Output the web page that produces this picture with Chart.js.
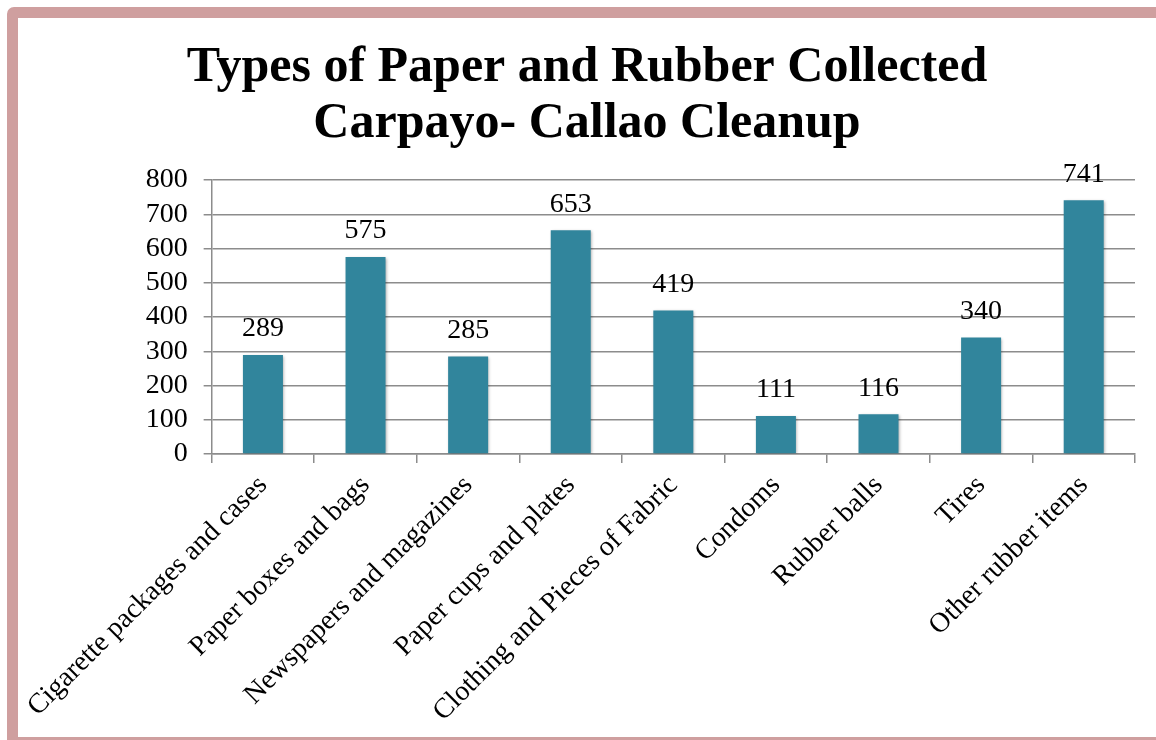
<!DOCTYPE html>
<html>
<head>
<meta charset="utf-8">
<script src="https://cdn.jsdelivr.net/npm/chart.js@4/dist/chart.umd.min.js"></script>
<style>
  html, body { margin: 0; padding: 0; background: #fff; overflow: hidden; width: 1156px; height: 740px; }
  #frame { position: absolute; left: 7px; top: 7px; width: 1170px; height: 741px; box-sizing: border-box;
           border: 11px solid #cf9f9f; border-radius: 7px; }
  #wrap { position: absolute; left: 16px; top: 18px; width: 1142px; height: 719px; }
</style>
</head>
<body>
<div id="frame"></div>
<div id="wrap"><canvas id="chart" width="1142" height="719"></canvas></div>
<script>
const categories = [
  "Cigarette packages and cases",
  "Paper boxes and bags",
  "Newspapers and magazines",
  "Paper cups and plates",
  "Clothing and Pieces of Fabric",
  "Condoms",
  "Rubber balls",
  "Tires",
  "Other rubber items"
];
const itemCounts = [289, 575, 285, 653, 419, 111, 116, 340, 741];
const titleLines = ["Types of Paper and Rubber Collected", "Carpayo- Callao Cleanup"];
const yMax = 800;
const yStep = 100;

const serif = '"Liberation Serif", "Times New Roman", serif';
const gridColor = "#8c8c8c";

// soft shadow behind the bars
const barShadow = {
  id: "barShadow",
  beforeDatasetDraw(chart) {
    const ctx = chart.ctx;
    ctx.save();
    ctx.shadowColor = "rgba(0,0,0,0.35)";
    ctx.shadowBlur = 3;
    ctx.shadowOffsetX = 1;
    ctx.shadowOffsetY = 1;
  },
  afterDatasetDraw(chart) {
    chart.ctx.restore();
  }
};

// value labels above each bar
const valueLabels = {
  id: "valueLabels",
  afterDatasetsDraw(chart) {
    const ctx = chart.ctx;
    const meta = chart.getDatasetMeta(0);
    const values = chart.data.datasets[0].data;
    ctx.save();
    ctx.font = "28px " + serif;
    ctx.fillStyle = "#000";
    ctx.textAlign = "center";
    ctx.textBaseline = "middle";
    meta.data.forEach((bar, i) => {
      ctx.fillText(String(values[i]), bar.x, bar.y - 26);
    });
    ctx.restore();
  }
};

new Chart(document.getElementById("chart"), {
  type: "bar",
  data: {
    labels: categories,
    datasets: [{
      data: itemCounts,
      backgroundColor: "#31859c",
      categoryPercentage: 1,
      barPercentage: 0.39
    }]
  },
  options: {
    responsive: false,
    animation: false,
    layout: { padding: { top: 0, right: 23, bottom: 0, left: 23 } },
    plugins: {
      legend: { display: false },
      tooltip: { enabled: false },
      title: {
        display: true,
        text: titleLines,
        color: "#000",
        font: { family: serif, size: 50, weight: "bold", lineHeight: 1.12 },
        padding: { top: 22, bottom: 28 }
      }
    },
    scales: {
      y: {
        min: 0,
        max: yMax,
        ticks: { stepSize: yStep, autoSkip: false, color: "#000", font: { family: serif, size: 28 }, padding: 16 },
        grid: { color: gridColor, lineWidth: 1.5, tickLength: 8 },
        border: { color: gridColor, width: 1.5 },
        afterFit: s => { s.width = 168; }
      },
      x: {
        offset: true,
        grid: { display: true, drawOnChartArea: false, drawTicks: true, tickLength: 9, color: gridColor, lineWidth: 1.5, offset: true },
        border: { color: gridColor, width: 1.5 },
        ticks: { color: "#000", font: { family: serif, size: 28 }, minRotation: 45, maxRotation: 45, autoSkip: false, padding: 6 },
        afterFit: s => { s.height = 283; }
      }
    }
  },
  plugins: [barShadow, valueLabels]
});
</script>
</body>
</html>
